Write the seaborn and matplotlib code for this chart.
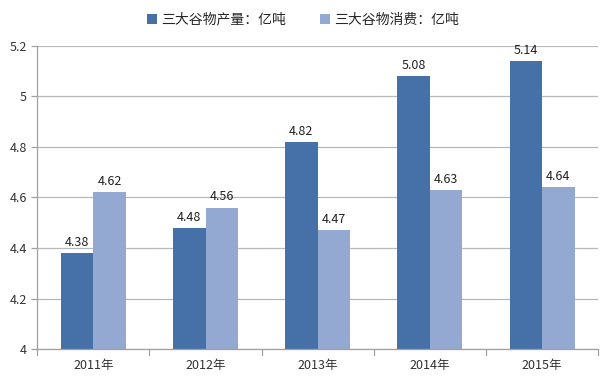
import matplotlib
matplotlib.use("Agg")
from matplotlib import pyplot as plt
import seaborn as sns
import pandas as pd

years = ['2011年', '2012年', '2013年', '2014年', '2015年']
production = [4.38, 4.48, 4.82, 5.08, 5.14]
consumption = [4.62, 4.56, 4.47, 4.63, 4.64]
series_names = ['三大谷物产量：亿吨', '三大谷物消费：亿吨']
yticks = [4, 4.2, 4.4, 4.6, 4.8, 5, 5.2]
ytick_labels = ['4', '4.2', '4.4', '4.6', '4.8', '5', '5.2']

sns.set_style("white")
plt.rcParams['font.family'] = ['Noto Sans CJK SC', 'DejaVu Sans']

df = pd.DataFrame({
    'year': years * 2,
    'value': production + consumption,
    'series': [series_names[0]] * 5 + [series_names[1]] * 5,
})

colors = ['#4571A8', '#93A9D1']

fig = plt.figure(figsize=(6, 3.79), dpi=100)
ax = fig.add_axes([0.062, 0.079, 0.935, 0.80])

sns.barplot(data=df, x='year', y='value', hue='series', palette=colors,
            saturation=1, width=0.58, gap=0, linewidth=0, edgecolor='none',
            ax=ax, legend=True)

ax.set_ylim(4, 5.2)
ax.set_yticks(yticks)
ax.set_yticklabels(ytick_labels, fontsize=9, color='#333333')
ax.yaxis.grid(True, color='#b8b8b8', linewidth=0.9)
ax.set_axisbelow(True)
ax.set_xlabel('')
ax.set_ylabel('')
ax.tick_params(axis='x', length=0, labelsize=9, labelcolor='#333333', pad=7)
ax.tick_params(axis='y', length=4, color='#a0a0a0', width=0.9, left=True)

# category separator ticks on x axis
for i in range(6):
    ax.plot([i - 0.5, i - 0.5], [0, -0.018], transform=ax.get_xaxis_transform(),
            color='#a0a0a0', linewidth=0.9, clip_on=False)
ax.set_xlim(-0.5, 4.5)

for s in ['top', 'right']:
    ax.spines[s].set_visible(False)
for s in ['left', 'bottom']:
    ax.spines[s].set_color('#a0a0a0')
    ax.spines[s].set_linewidth(0.9)

for cont in ax.containers:
    ax.bar_label(cont, labels=[f'{v:.2f}' for v in cont.datavalues],
                 fontsize=9, color='#222222', padding=3)

handles, labels = ax.get_legend_handles_labels()
ax.get_legend().remove()
fig.legend(handles, labels, loc='upper center', bbox_to_anchor=(0.505, 1.0),
           ncol=2, frameon=False, fontsize=10, handlelength=0.7,
           handleheight=0.7, handletextpad=0.3, columnspacing=2.5)

fig.savefig('out.png', dpi=100, facecolor='white')
